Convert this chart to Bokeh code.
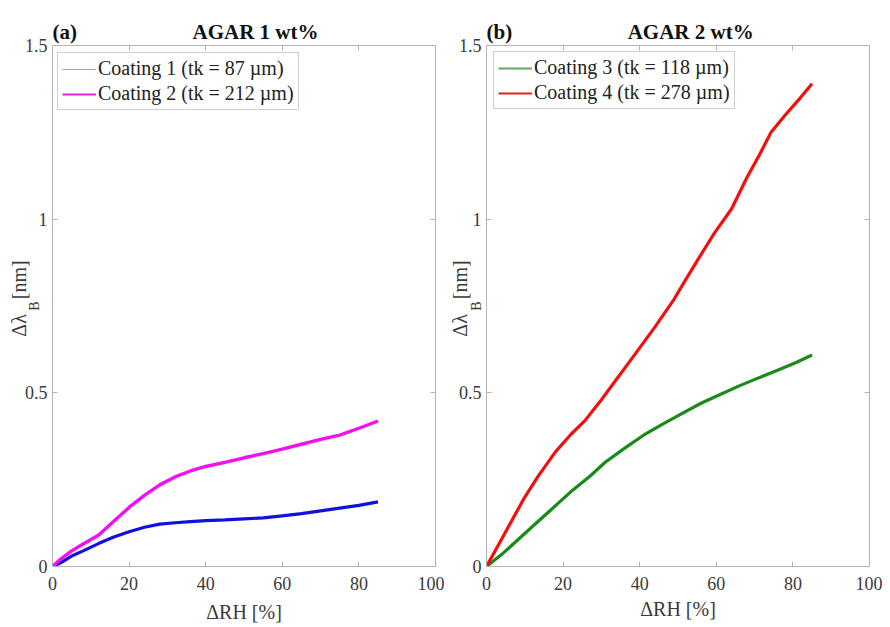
from bokeh.plotting import figure
from bokeh.layouts import row
from bokeh.models import Range1d, LinearAxis, FixedTicker, Legend, LegendItem, CustomJSTickFormatter, Title
from bokeh.embed import file_html
from bokeh.resources import INLINE

# ---------------- data ----------------
x_ticks = [0, 20, 40, 60, 80, 100]
y_ticks = [0, 0.5, 1, 1.5]

rh_a = [0, 2, 5, 8, 12, 16, 20, 24, 28, 32, 36, 40, 45, 50, 55, 60, 65, 70, 75, 80, 85]
coating1 = [0, 0.01, 0.03, 0.045, 0.066, 0.085, 0.10, 0.113, 0.122, 0.126, 0.129, 0.132,
            0.134, 0.137, 0.14, 0.146, 0.152, 0.16, 0.168, 0.176, 0.186]
coating2 = [0, 0.02, 0.045, 0.065, 0.09, 0.13, 0.17, 0.205, 0.235, 0.258, 0.275, 0.288,
            0.30, 0.313, 0.325, 0.338, 0.352, 0.366, 0.378, 0.398, 0.419]

rh_b3 = [0, 4, 8, 12, 17, 22, 27, 31, 36, 41, 46, 51, 56, 61, 66, 71, 76, 81, 85]
coating3 = [0, 0.035, 0.075, 0.115, 0.165, 0.215, 0.26, 0.30, 0.34, 0.378, 0.41, 0.44,
            0.47, 0.495, 0.52, 0.543, 0.565, 0.588, 0.609]
rh_b4 = [0, 3, 7, 10, 13.5, 18, 22, 25.7, 30, 34, 38.7, 44, 49, 51.7, 55, 59.5, 64, 68,
         71, 74.3, 78, 82, 85]
coating4 = [0, 0.06, 0.14, 0.2, 0.26, 0.33, 0.38, 0.42, 0.48, 0.54, 0.61, 0.69, 0.77,
            0.82, 0.88, 0.96, 1.03, 1.12, 1.18, 1.25, 1.30, 1.35, 1.39]

NAN = float("nan")
FONT = "Liberation Serif"
AX_COL = "#b4b4b4"
TXT_COL = "#3a3a3a"
NB = "\u00a0"


def make_panel(width, bl, br, bt, bb, title_text, sub_standoff, lab_standoff,
               xlab_standoff):
    p = figure(width=width, height=627, output_backend="svg", toolbar_location=None,
               x_range=Range1d(0, 100), y_range=Range1d(0, 1.5),
               min_border_left=bl, min_border_right=br,
               min_border_top=bt, min_border_bottom=bb)
    p.xgrid.visible = False
    p.ygrid.visible = False
    p.outline_line_color = AX_COL
    for ax in (p.xaxis[0], p.yaxis[0]):
        ax.axis_line_color = AX_COL
        ax.major_tick_line_color = AX_COL
        ax.major_tick_in = 5
        ax.major_tick_out = 0
        ax.minor_tick_line_color = None
        ax.major_label_text_font = FONT
        ax.major_label_text_font_size = "18px"
        ax.major_label_text_color = TXT_COL
        ax.axis_label_text_font = FONT
        ax.axis_label_text_font_style = "normal"
        ax.axis_label_text_color = TXT_COL
    p.xaxis.ticker = FixedTicker(ticks=x_ticks)
    p.yaxis.ticker = FixedTicker(ticks=y_ticks)
    p.yaxis.major_label_overrides = {0: "0", 0.5: "0.5", 1: "1", 1.5: "1.5"}
    p.xaxis.major_label_standoff = 10
    p.yaxis.major_label_standoff = 5
    p.xaxis.axis_label = "ΔRH [%]"
    p.xaxis.axis_label_text_font_size = "20px"
    p.xaxis.axis_label_standoff = xlab_standoff

    # subscript "B" of the y label (label of the main y axis)
    p.yaxis.axis_label = "B"
    p.yaxis.axis_label_text_font_size = "14px"
    p.yaxis.axis_label_standoff = sub_standoff

    # "Δλ [nm]" on a second (tick-less) left axis
    ylab = LinearAxis(ticker=FixedTicker(ticks=[]), axis_line_color=None,
                      major_tick_line_color=None, minor_tick_line_color=None,
                      major_label_standoff=0,
                      axis_label=NB * 3 + "Δλ" + NB * 3 + "[nm]",
                      axis_label_text_font=FONT, axis_label_text_font_size="20px",
                      axis_label_text_font_style="normal", axis_label_text_color=TXT_COL,
                      axis_label_standoff=lab_standoff)
    p.add_layout(ylab, "left")

    blank = CustomJSTickFormatter(code="return ''")
    for place, ticks in (("above", x_ticks), ("right", y_ticks)):
        ax = LinearAxis(ticker=FixedTicker(ticks=ticks), formatter=blank,
                        axis_line_color=None, major_tick_line_color=AX_COL,
                        major_tick_in=5, major_tick_out=0, minor_tick_line_color=None,
                        major_label_standoff=0, major_label_text_font_size="1px")
        p.add_layout(ax, place)

    p.title = Title(text=title_text, align="left", text_font=FONT,
                    text_font_size="21px", text_font_style="bold",
                    text_color="#111111", standoff=3)
    return p


def style_legend(p, items, loc):
    leg = Legend(items=items, location=loc)
    leg.label_text_font = FONT
    leg.label_text_font_size = "20px"
    leg.label_text_color = "#222222"
    leg.glyph_width = 34
    leg.glyph_height = 20
    leg.label_height = 20
    leg.label_standoff = 2
    leg.spacing = 2
    leg.padding = 4
    leg.margin = 0
    leg.border_line_color = "#a0a0a0"
    p.add_layout(leg, "center")


# ---------------- panel (a) ----------------
pa = make_panel(444, 52, 9, 43, 61, "(a)" + NB * 22 + "AGAR 1 wt%", -20, -6, 8)
pa.line(rh_a, coating1, line_color="#1010e0", line_width=3.2)
pa.line(rh_a, coating2, line_color="#f010f0", line_width=3.4)
g1 = pa.line([NAN], [NAN], line_color="#a0a0a8", line_width=1)
g2 = pa.line([NAN], [NAN], line_color="#e020e0", line_width=2)
style_legend(pa, [LegendItem(label="Coating 1 (tk = 87 µm)", renderers=[g1]),
                  LegendItem(label="Coating 2 (tk = 212 µm)", renderers=[g2])],
             (5, 456))

# ---------------- panel (b) ----------------
pb = make_panel(438, 42, 13, 45, 58, "(b)" + NB * 22 + "AGAR 2 wt%", -28, -5, 5)
pb.line(rh_b3, coating3, line_color="#1a8a1a", line_width=3.2)
pb.line(rh_b4, coating4, line_color="#f01010", line_width=3.2)
g3 = pb.line([NAN], [NAN], line_color="#60a860", line_width=2)
g4 = pb.line([NAN], [NAN], line_color="#e02020", line_width=2)
style_legend(pb, [LegendItem(label="Coating 3 (tk = 118 µm)", renderers=[g3]),
                  LegendItem(label="Coating 4 (tk = 278 µm)", renderers=[g4])],
             (7, 457))

layout = row(pa, pb)
open("out.html", "w").write(file_html(layout, INLINE))
